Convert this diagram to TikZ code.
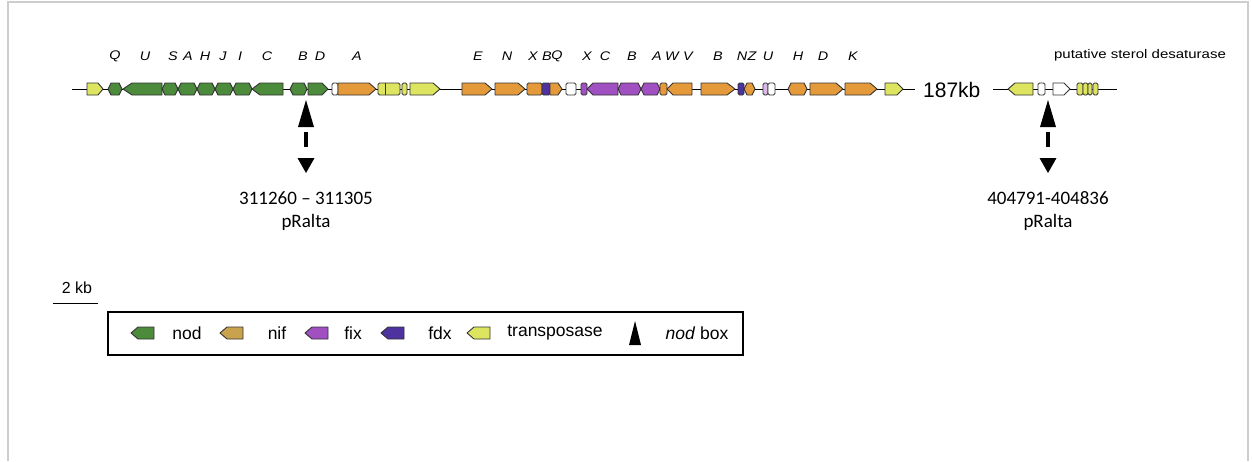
\documentclass[tikz,border=0pt]{standalone}
\usepackage{fontspec}
\usepackage{graphicx}
\setmainfont{Liberation Sans}
\newfontfamily\calfont{Carlito}
\definecolor{nodg}{HTML}{4C8A3C}
\definecolor{nodd}{HTML}{2E5526}
\definecolor{nifo}{HTML}{E49A3A}
\definecolor{nifd}{HTML}{7A5020}
\definecolor{niftan}{HTML}{C9A24E}
\definecolor{tpy}{HTML}{DDE460}
\definecolor{tpd}{HTML}{6E6E20}
\definecolor{fixp}{HTML}{A050C0}
\definecolor{fixd}{HTML}{5A2A70}
\definecolor{fdxp}{HTML}{4E32A0}
\definecolor{framegray}{HTML}{CDCDCD}
\tikzset{
  gene/.style={draw=black!80, line width=0.9pt, line join=round},
  glabel/.style={font=\fontsize{12.5}{14}\selectfont\itshape, inner sep=0pt},
  legtext/.style={font=\fontsize{17.5}{19}\selectfont, inner sep=0pt},
  postext/.style={font=\calfont\fontsize{19}{22}\selectfont, inner sep=0pt, align=center},
}
% gene glyphs: x1, x2, fill colour, tip length (track spans y = 83..95)
\newcommand\geneR[4]{\filldraw[gene,fill=#3] (#1,83) -- ({#2-#4},83) -- (#2,89) -- ({#2-#4},95) -- (#1,95) -- cycle;}
\newcommand\geneL[4]{\filldraw[gene,fill=#3] (#2,83) -- ({#1+#4},83) -- (#1,89) -- ({#1+#4},95) -- (#2,95) -- cycle;}
\newcommand\geneH[4]{\filldraw[gene,fill=#3] (#1,89) -- ({#1+#4},83) -- ({#2-#4},83) -- (#2,89) -- ({#2-#4},95) -- ({#1+#4},95) -- cycle;}
\newcommand\geneB[3]{\filldraw[gene,fill=#3,rounded corners=1.5pt] (#1,83) rectangle (#2,95);}
% legend glyph: left-pointing tag centred at x, y
\newcommand\legglyph[3]{\filldraw[gene,fill=#3] ({#1+11},{#2-6}) -- ({#1-5},{#2-6}) -- ({#1-12},#2) -- ({#1-5},{#2+6}) -- ({#1+11},{#2+6}) -- cycle;}
\begin{document}
\begin{tikzpicture}[x={(1pt,0)}, y={(0,-1pt)}]
\useasboundingbox (0,0) rectangle (1252,461);
% frame
\draw[framegray, line width=1.5pt] (8,461) -- (8,2) -- (1248,2) -- (1248,461);

% backbone
\draw[line width=0.9pt] (72,89) -- (915,89);
\draw[line width=0.9pt] (993,89) -- (1117,89);

% nod cluster
\geneR{87}{103}{tpy}{5}
\geneH{108}{122}{nodg}{3}
\geneL{123}{162}{nodg}{9}
\geneH{162}{178}{nodg}{3}
\geneH{178}{197}{nodg}{3}
\geneH{197}{215}{nodg}{3}
\geneH{215}{233}{nodg}{3}
\geneH{233}{252}{nodg}{3}
\geneL{252}{283}{nodg}{8}
\geneH{290}{307}{nodg}{3}
\geneR{308}{328}{nodg}{6}
\geneB{332}{338}{white}
\geneR{338}{376}{nifo}{7}
\geneB{378}{400}{tpy}
\draw[black!80, line width=0.7pt] (385,83) -- (385,95);
\geneB{402}{407}{tpy}
\geneR{410}{440}{tpy}{7}

% nif / fix cluster
\geneR{462}{492}{nifo}{7}
\geneR{495}{525}{nifo}{7}
\geneB{527}{542}{nifo}
\geneB{542}{550}{fdxp}
\geneR{550}{562}{nifo}{4}
\geneB{566}{576}{white}
\geneB{581}{587}{fixp}
\geneL{587}{618}{fixp}{6}
\geneH{618}{641}{fixp}{3}
\geneH{641}{660}{fixp}{3}
\geneB{660}{667}{nifo}
\geneL{667}{692}{nifo}{6}
\geneR{701}{735}{nifo}{8}
\geneB{738}{744}{fdxp}
\geneH{744}{755}{nifo}{3}
\geneB{763}{768}{fixp!40}
\geneB{768}{775}{white}
\geneH{788}{807}{nifo}{3}
\geneR{810}{843}{nifo}{7}
\geneR{845}{877}{nifo}{7}
\geneR{885}{903}{tpy}{6}

\node[font=\fontsize{21}{23}\selectfont, anchor=west, inner sep=0pt] (gap) at (923,90) {187kb};

% distal segment
\geneL{1008}{1033}{tpy}{7}
\geneB{1038}{1045}{white}
\geneR{1053}{1070}{white}{6}
\geneB{1077}{1083}{tpy}
\geneB{1083}{1088}{tpy}
\geneB{1088}{1092}{tpy}
\geneB{1093}{1098}{tpy}
\node[font=\fontsize{12.5}{14}\selectfont, inner sep=0pt] (psd) at (1140,55) {\scalebox{1.2}[1]{putative sterol desaturase}};

% gene names
\foreach \lx/\lt [count=\i] in {115/Q,145/U,173/S,188/A,205/H,223/J,240/I,267/C,303/B,320/D,357/A,
  478/E,507/N,533/X,547/B,557/Q,587/X,605/C,632/B,657/A,672/W,688/V,
  718/B,742/N,752/Z,768/U,798/H,823/D,853/K}
  \node[glabel] (g\i) at (\lx,56) {\scalebox{1.15}[1]{\lt}};

% nod box markers and positions
\foreach \bx/\nm/\pos in {306/boxA/{311260 – 311305}, 1048/boxB/{404791-404836}}{
  \fill (\bx,100) -- ({\bx-8},127) -- ({\bx+8},127) -- cycle;
  \draw[line width=4.5pt] (\bx,132) -- (\bx,147);
  \fill ({\bx-8.5},158) -- ({\bx+8.5},158) -- (\bx,173) -- cycle;
  \node[postext] (\nm) at (\bx,198) {\pos};
  \node[postext] (\nm p) at (\bx,222) {pRalta};
}

% scale bar
\node[font=\fontsize{16}{18}\selectfont, inner sep=0pt] (sb) at (77,288) {2 kb};
\draw[line width=1pt] (53,303) -- (98,303);

% legend
\draw[line width=1.1pt] (108,312) rectangle (743,355);
\legglyph{143}{333}{nodg}
\node[legtext] (lnod) at (187,333) {nod};
\legglyph{232}{333}{niftan}
\node[legtext] (lnif) at (277,333) {nif};
\legglyph{317}{333}{fixp}
\node[legtext] (lfix) at (353,333) {fix};
\legglyph{393}{333}{fdxp}
\node[legtext] (lfdx) at (440,333) {fdx};
\legglyph{479}{333}{tpy}
\node[legtext] (ltp) at (555,333) {transposase};
\fill (635,321) -- (629,345) -- (641,345) -- cycle;
\node[legtext] (lbox) at (697,333) {\textit{nod} box};
\end{tikzpicture}
\end{document}
